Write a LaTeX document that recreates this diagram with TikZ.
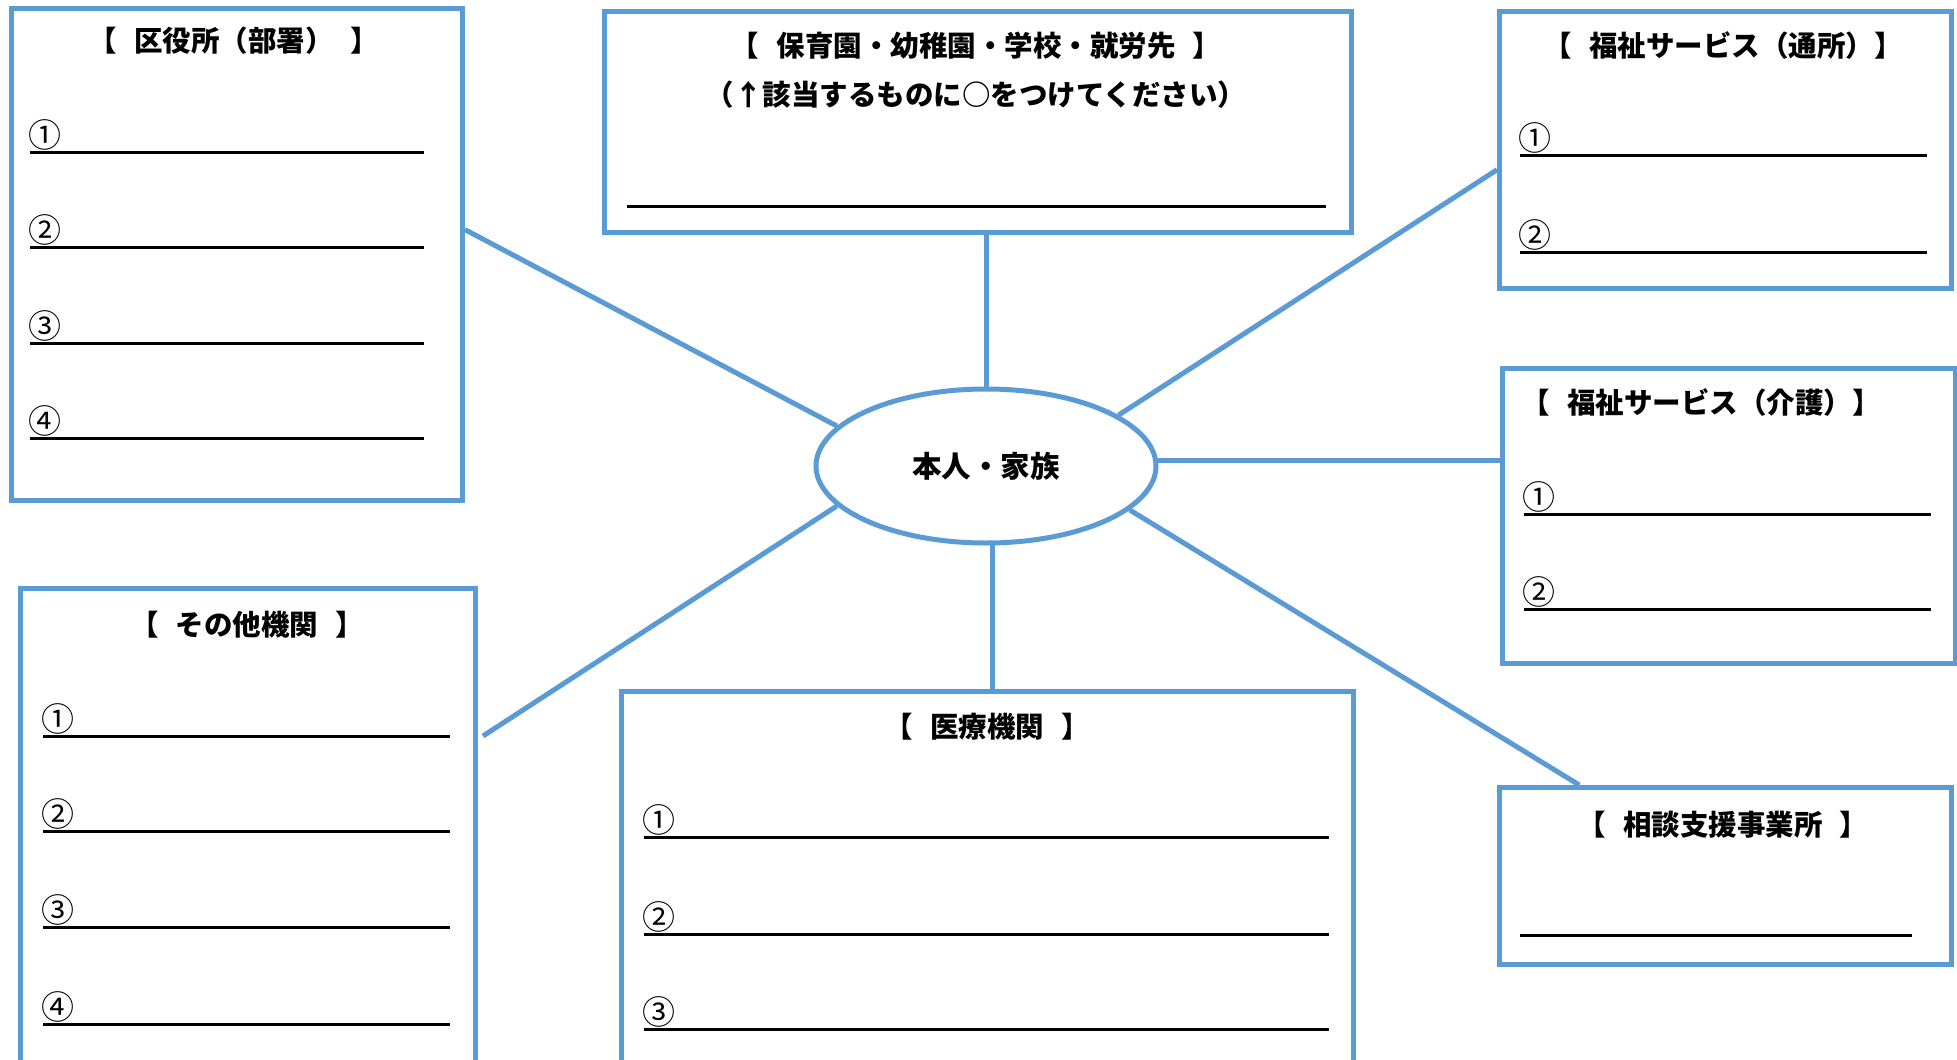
\documentclass[tikz,border=0pt]{standalone}
\usepackage{fontspec}
\setmainfont{Noto Sans CJK JP}
\usepackage{xcolor}
\usetikzlibrary{shapes}
\usetikzlibrary{calc}
\definecolor{lineblue}{RGB}{91,155,213}
\newcommand{\gap}{\hspace{0.6em}}

\tikzset{
  frame/.style={draw=lineblue, line width=5pt, rectangle, inner sep=0pt, anchor=north west},
  link/.style={draw=lineblue, line width=5pt},
  title/.style={font=\fontsize{28.5}{49}\selectfont\bfseries, inner sep=0pt, align=center},
  blank/.style={line width=3pt},
  num/.style={font=\fontsize{33}{34}\selectfont, anchor=south west, inner sep=0pt}
}

\begin{document}
\begin{tikzpicture}[x=1pt, y=-1pt]
        \clip (0,0) rectangle (1957,1060);
        \fill[white] (0,0) rectangle (1957,1060);
        % boxes
        \node[frame, minimum width=451pt, minimum height=492pt] (ward) at (9,6) {};
        \node[frame, minimum width=747pt, minimum height=221pt] (school) at (602,9) {};
        \node[frame, minimum width=452pt, minimum height=277pt] (dayserv) at (1497,9) {};
        \node[frame, minimum width=453pt, minimum height=295pt] (care) at (1500,366) {};
        \node[frame, minimum width=452pt, minimum height=177pt] (consult) at (1497,785) {};
        \node[frame, minimum width=455pt, minimum height=500pt] (other) at (18,586) {};
        \node[frame, minimum width=732pt, minimum height=400pt] (med) at (619,689) {};
        \node[ellipse, draw=lineblue, line width=5pt, minimum width=340pt, minimum height=154pt,
              inner sep=0pt, font=\fontsize{29.5}{30}\selectfont\bfseries] (fam) at (986,466) {本人・家族};
        % titles
        \node[title] (wardt) at (234,41) {【\gap 区役所（部署）\gap 】};
        \node[title] (schoolt) at (976,70) {【\gap 保育園・幼稚園・学校・就労先\gap 】\\（↑該当するものに○をつけてください）};
        \node[title] (dayservt) at (1723,46) {【\gap 福祉サービス（通所）】};
        \node[title] (caret) at (1701,403) {【\gap 福祉サービス（介護）】};
        \node[title] (consultt) at (1723,825) {【\gap 相談支援事業所\gap 】};
        \node[title] (othert) at (247,625) {【\gap その他機関\gap 】};
        \node[title] (medt) at (987,727) {【\gap 医療機関\gap 】};
        % lines to fill in
        \draw[blank] (30,152) -- (424,152);
        \draw[blank] (30,247) -- (424,247);
        \draw[blank] (30,343) -- (424,343);
        \draw[blank] (30,438) -- (424,438);
        \node[num] (w1) at (28,151) {①};
        \node[num] (w2) at (28,246) {②};
        \node[num] (w3) at (28,342) {③};
        \node[num] (w4) at (28,437) {④};
        \draw[blank] (627,206) -- (1326,206);
        \draw[blank] (1520,155) -- (1927,155);
        \draw[blank] (1520,252) -- (1927,252);
        \node[num] (d1) at (1518,154) {①};
        \node[num] (d2) at (1518,251) {②};
        \draw[blank] (1524,514) -- (1931,514);
        \draw[blank] (1524,609) -- (1931,609);
        \node[num] (c1) at (1522,513) {①};
        \node[num] (c2) at (1522,608) {②};
        \draw[blank] (1520,935) -- (1912,935);
        \draw[blank] (43,736) -- (450,736);
        \draw[blank] (43,831) -- (450,831);
        \draw[blank] (43,927) -- (450,927);
        \draw[blank] (43,1024) -- (450,1024);
        \node[num] (o1) at (41,735) {①};
        \node[num] (o2) at (41,830) {②};
        \node[num] (o3) at (41,926) {③};
        \node[num] (o4) at (41,1023) {④};
        \draw[blank] (644,837) -- (1329,837);
        \draw[blank] (644,934) -- (1329,934);
        \draw[blank] (644,1029) -- (1329,1029);
        \node[num] (m1) at (642,836) {①};
        \node[num] (m2) at (642,933) {②};
        \node[num] (m3) at (642,1028) {③};
        % connectors
        \draw[link] ($(ward.north east)!0.45!(ward.south east)$) -- (fam.165);
        \draw[link] (fam.north) -- (fam.north |- school.south);
        \draw[link] (fam.21) -- ($(dayserv.north west)!0.57!(dayserv.south west)$);
        \draw[link] (fam.2) -- (fam.2 -| care.west);
        \draw[link] (fam.343) -- ($(consult.north west)!0.18!(consult.north east)$);
        \draw[link] (fam.275) -- (fam.275 |- med.north);
        \draw[link] (fam.195) -- ($(other.north east)+(5,150)$);
\end{tikzpicture}
\end{document}
